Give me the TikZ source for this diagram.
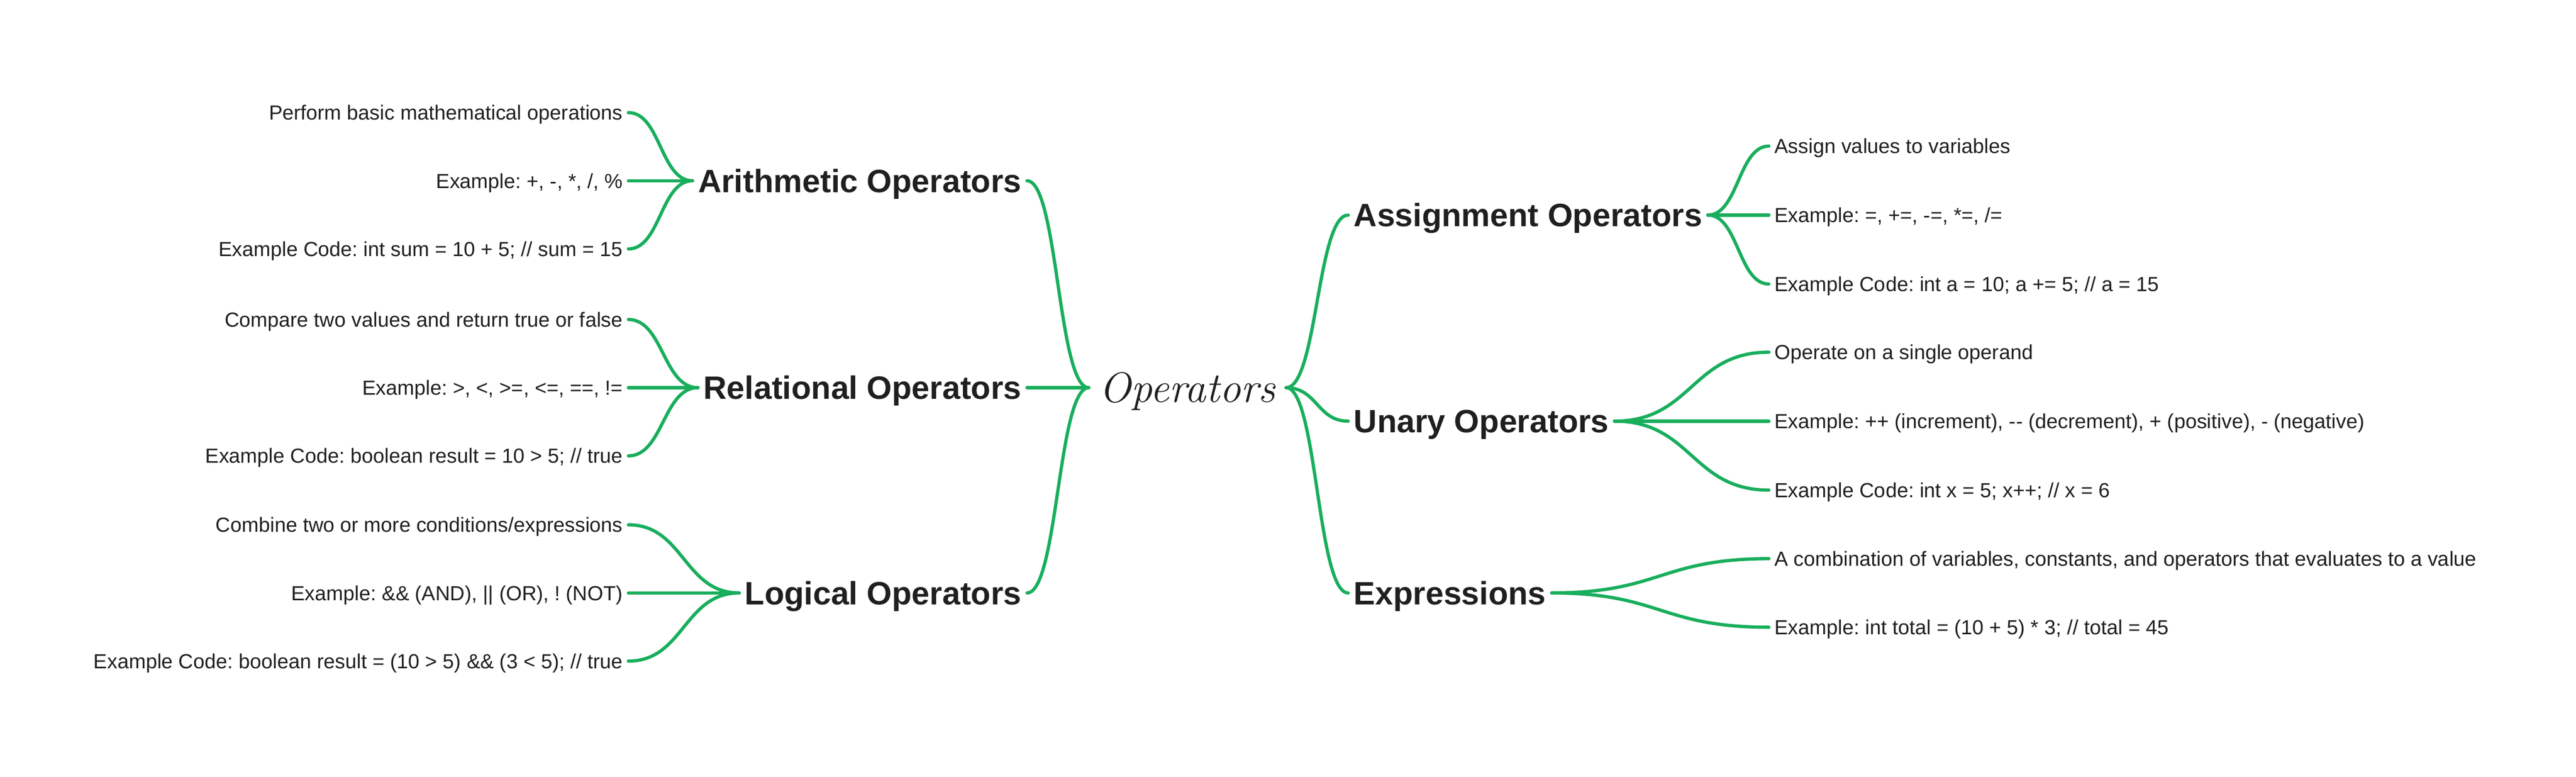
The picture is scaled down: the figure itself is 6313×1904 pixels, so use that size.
\documentclass[tikz,border=0pt]{standalone}
\usepackage{fontspec}
\newfontfamily\interf{Liberation Sans}
\usetikzlibrary{calc}
\definecolor{lk}{RGB}{24,174,92}
\definecolor{ink}{RGB}{31,31,31}
\frenchspacing
\newcommand\mmlink[2]{\draw[link] let \p1=(#1), \p2=(#2) in (\p1) .. controls ({0.5*\x1+0.5*\x2},\y1) and ({0.5*\x1+0.5*\x2},\y2) .. (\p2);}
\begin{document}
\begin{tikzpicture}[x=0.25pt,y=-0.25pt,
  link/.style={draw=lk,line width=2pt,line cap=round},
  leaf/.style={font=\interf\fontsize{12.5}{14}\selectfont\frenchspacing,text=ink,inner xsep=3.25pt,inner ysep=0pt,text height=9pt,text depth=0pt},
  head/.style={font=\interf\bfseries\fontsize{19.8}{22}\selectfont,text=ink,inner xsep=3.25pt,inner ysep=0pt,text height=14.2pt,text depth=0pt},
  hub/.style={font=\itshape\fontsize{26}{30}\selectfont,text=ink,inner sep=0pt,minimum width=120.5pt,text height=17.6pt,text depth=0pt}]
\useasboundingbox (0,0) rectangle (6313,1904);
% centre
\node[hub] (op) at (2910,950) {Operators};
% branches
\node[head,anchor=east] (ar) at (2517,443) {Arithmetic Operators};
\node[head,anchor=east] (re) at (2517,950) {Relational Operators};
\node[head,anchor=east] (lo) at (2517,1453) {Logical Operators};
\node[head,anchor=west] (as) at (3304,527) {Assignment Operators};
\node[head,anchor=west] (un) at (3304,1032) {Unary Operators};
\node[head,anchor=west] (ex) at (3304,1453) {Expressions};
% left leaves
\node[leaf,anchor=east] (ar1) at (1540,276) {Perform basic mathematical operations};
\node[leaf,anchor=east] (ar2) at (1540,443) {Example: +, -, *, /, \%};
\node[leaf,anchor=east] (ar3) at (1540,610) {Example Code: int sum = 10 + 5; // sum = 15};
\node[leaf,anchor=east] (re1) at (1540,783) {Compare two values and return true or false};
\node[leaf,anchor=east] (re2) at (1540,950) {Example: >, <, >=, <=, ==, !=};
\node[leaf,anchor=east] (re3) at (1540,1117) {Example Code: boolean result = 10 > 5; // true};
\node[leaf,anchor=east] (lo1) at (1540,1286) {Combine two or more conditions/expressions};
\node[leaf,anchor=east] (lo2) at (1540,1453) {Example: \&\& (AND), \textbar\textbar{} (OR), ! (NOT)};
\node[leaf,anchor=east] (lo3) at (1540,1620) {Example Code: boolean result = (10 > 5) \&\& (3 < 5); // true};
% right leaves
\node[leaf,anchor=west] (as1) at (4335,358) {Assign values to variables};
\node[leaf,anchor=west] (as2) at (4335,527) {Example: =, +=, -=, *=, /=};
\node[leaf,anchor=west] (as3) at (4335,696) {Example Code: int a = 10; a += 5; // a = 15};
\node[leaf,anchor=west] (un1) at (4335,863) {Operate on a single operand};
\node[leaf,anchor=west] (un2) at (4335,1032) {Example: ++ (increment), {-}{-} (decrement), + (positive), - (negative)};
\node[leaf,anchor=west] (un3) at (4335,1201) {Example Code: int x = 5; x++; // x = 6};
\node[leaf,anchor=west] (ex1) at (4335,1369) {A combination of variables, constants, and operators that evaluates to a value};
\node[leaf,anchor=west] (ex2) at (4335,1537) {Example: int total = (10 + 5) * 3; // total = 45};
% connectors
\mmlink{ar.east}{op.west}
\mmlink{re.east}{op.west}
\mmlink{lo.east}{op.west}
\mmlink{op.east}{as.west}
\mmlink{op.east}{un.west}
\mmlink{op.east}{ex.west}
\mmlink{ar1.east}{ar.west}
\mmlink{ar2.east}{ar.west}
\mmlink{ar3.east}{ar.west}
\mmlink{re1.east}{re.west}
\mmlink{re2.east}{re.west}
\mmlink{re3.east}{re.west}
\mmlink{lo1.east}{lo.west}
\mmlink{lo2.east}{lo.west}
\mmlink{lo3.east}{lo.west}
\mmlink{as.east}{as1.west}
\mmlink{as.east}{as2.west}
\mmlink{as.east}{as3.west}
\mmlink{un.east}{un1.west}
\mmlink{un.east}{un2.west}
\mmlink{un.east}{un3.west}
\mmlink{ex.east}{ex1.west}
\mmlink{ex.east}{ex2.west}
\end{tikzpicture}
\end{document}
